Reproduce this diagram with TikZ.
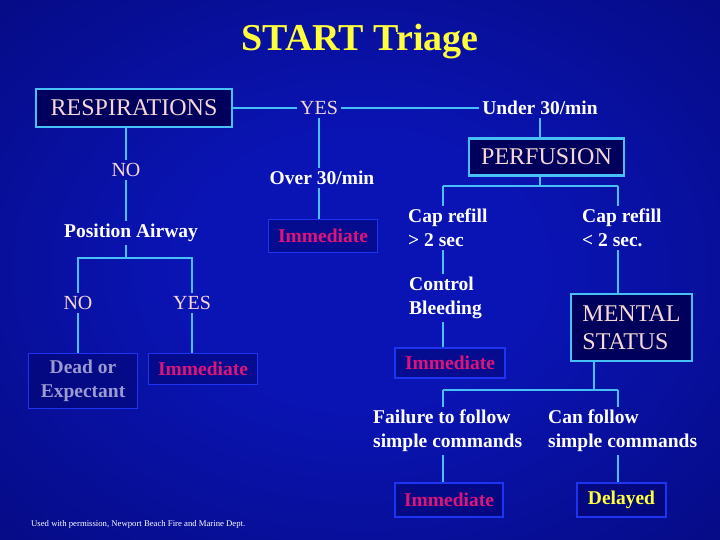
\documentclass[tikz,border=0pt]{standalone}
\usepackage{fontspec}
\setmainfont{Liberation Serif}
\usetikzlibrary{positioning}
\definecolor{triagebgin}{HTML}{0A14B4}
\definecolor{triagebgout}{HTML}{00004A}
\definecolor{triagecyan}{HTML}{46C0F6}
\definecolor{triageedge}{HTML}{1E34F0}
\definecolor{triagefill}{HTML}{00005C}
\definecolor{triagepink}{HTML}{F6D8D6}
\definecolor{triagered}{HTML}{DE1478}
\definecolor{triageyellow}{HTML}{FFFF3C}
\definecolor{triagegrey}{HTML}{9C9AD2}
\pgfdeclareradialshading{slidebg}{\pgfpoint{0bp}{0bp}}{color(0bp)=(triagebgin); color(12bp)=(triagebgin); color(66bp)=(triagebgout)}

\begin{document}
\begin{tikzpicture}[
  x=1pt,y=-1pt,
  link/.style={draw=triagecyan, line width=2.3pt},
  head/.style={font=\bfseries\fontsize{38}{42}\selectfont, text=triageyellow},
  mainbox/.style={draw=triagecyan, fill=triagefill, line width=2.3pt, inner sep=0pt, text=triagepink, font=\fontsize{24}{28}\selectfont},
  outcome/.style={draw=triageedge, fill=triagefill, fill opacity=.4, text opacity=1, line width=1.8pt, inner sep=0pt, text=#1, align=center, font=\bfseries\fontsize{19.5}{24}\selectfont},
  yesno/.style={text=triagepink, inner sep=3pt, font=\fontsize{20}{24}\selectfont},
  cue/.style={text=white, inner sep=3pt, align=left, font=\bfseries\fontsize{19.5}{24}\selectfont},
  credit/.style={text=white, inner sep=0pt, font=\fontsize{8.7}{10}\selectfont},
]
\useasboundingbox (0,0) rectangle (720,540);
\shade[shading=slidebg] (0,0) rectangle (720,540);

\node[head] (ttl) at (360,42) {START Triage};

% respirations branch
\node[mainbox, minimum width=196pt, minimum height=38pt] (resp) at (134,108) {RESPIRATIONS};
\node[yesno] (yes1) at (319,108) {YES};
\node[cue] (under) at (540,108) {Under 30/min};
\node[cue] (over) at (322,178) {Over 30/min};
\node[outcome=triagered, minimum width=109pt, minimum height=33pt] (imm1) at (323,236) {Immediate};

\draw[link] (resp) -- (yes1);
\draw[link] (yes1) -- (under);
\draw[link] (yes1.south) -- (yes1.south|-over.north);
\draw[link] (over.south-|yes1) -- (yes1|-imm1.north);

% no breathing
\node[yesno] (no1) at (126,170) {NO};
\node[cue] (paw) at (131,233) {Position Airway};
\coordinate (fk1) at (126,258);
\node[yesno] (no2) at (78,303) {NO};
\node[yesno] (yes2) at (192,303) {YES};
\node[outcome=triagegrey, minimum width=109pt, minimum height=55pt] (dead) at (83,381) {Dead or\\Expectant};
\node[outcome=triagered, minimum width=109pt, minimum height=31pt] (imm2) at (203,369) {Immediate};

\draw[link] (resp.south-|no1) -- (no1);
\draw[link] (no1) -- (no1|-paw.north);
\draw[link] (paw.south-|fk1) -- (fk1);
\draw[link] (fk1) -| (no2);
\draw[link] (fk1) -| (yes2);
\draw[link] (no2) -- (no2|-dead.north);
\draw[link] (yes2) -- (yes2|-imm2.north);

% perfusion branch
\node[mainbox, minimum width=155pt, minimum height=37pt] (perf) at (546.5,157) {PERFUSION};
\coordinate (fk2) at (540,186);
\coordinate (fk2l) at (443,186);
\coordinate (fk2r) at (618,186);
\node[cue, anchor=west] (slow) at (405,228) {Cap refill\\> 2 sec};
\node[cue, anchor=west] (fast) at (579,228) {Cap refill\\< 2 sec.};
\node[cue, anchor=west] (bleed) at (406,298) {Control\\Bleeding};
\node[outcome=triagered, minimum width=110pt, minimum height=30pt] (imm3) at (450,363) {Immediate};

\draw[link] (under) -- (under|-perf.north);
\draw[link] (perf.south-|fk2) -- (fk2);
\draw[link] (fk2l) -- (fk2r);
\draw[link] (fk2l) -- (fk2l|-slow.north);
\draw[link] (fk2r) -- (fk2r|-fast.north);
\draw[link] (slow.south-|fk2l) -- (fk2l|-bleed.north);
\draw[link] (bleed.south-|fk2l) -- (fk2l|-imm3.north);

% mental status
\node[mainbox, minimum width=121pt, minimum height=67pt, align=left] (ment) at (631.5,327.5) {MENTAL\\STATUS};
\coordinate (fk3) at (594,390);
\coordinate (fk3l) at (443,390);
\coordinate (fk3r) at (618,390);
\node[cue, anchor=west] (fail) at (370,431) {Failure to follow\\simple commands};
\node[cue, anchor=west] (can) at (545,431) {Can follow\\simple commands};
\node[outcome=triagered, minimum width=108pt, minimum height=34pt] (imm4) at (449,500) {Immediate};
\node[outcome=triageyellow, minimum width=89pt, minimum height=34pt] (dly) at (621.5,500) {Delayed};

\draw[link] (fast.south-|fk2r) -- (fk2r|-ment.north);
\draw[link] (ment.south-|fk3) -- (fk3);
\draw[link] (fk3l) -- (fk3r);
\draw[link] (fk3l) -- (fk3l|-fail.north);
\draw[link] (fk3r) -- (fk3r|-can.north);
\draw[link] (fail.south-|fk3l) -- (fk3l|-imm4.north);
\draw[link] (can.south-|fk3r) -- (fk3r|-dly.north);

\node[credit, anchor=west] (src) at (31,524) {Used with permission, Newport Beach Fire and Marine Dept.};
\end{tikzpicture}
\end{document}
